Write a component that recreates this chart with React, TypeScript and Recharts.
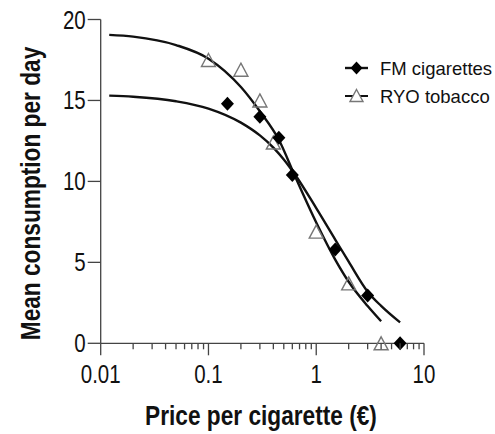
import React from "react";
import { ComposedChart, Line, Scatter, XAxis, YAxis, Label } from "recharts";

// observed means
const fmPrice = [0.15, 0.3, 0.45, 0.6, 1.5, 3, 6];
const fmConsumption = [14.8, 14.0, 12.7, 10.4, 5.8, 2.95, 0];
const ryoPrice = [0.1, 0.2, 0.3, 0.4, 1, 2, 4];
const ryoConsumption = [17.5, 16.9, 15.0, 12.4, 6.9, 3.7, 0];

// fitted demand curves
const fmFitPrice = [0.012, 0.02, 0.05, 0.1, 0.2, 0.3, 0.4, 0.5, 0.637, 1, 1.5, 2, 3, 4, 6];
const fmFitConsumption = [15.3, 15.23, 14.95, 14.5, 13.63, 12.84, 12.09, 11.36, 10.41, 8.35, 6.41, 5.04, 3.19, 2.31, 1.29];
const ryoFitPrice = [0.012, 0.02, 0.05, 0.1, 0.2, 0.3, 0.45, 0.637, 1, 1.5, 2, 3, 4];
const ryoFitConsumption = [19.05, 18.94, 18.42, 17.58, 15.83, 14.33, 12.57, 10.3, 7.46, 5.17, 3.8, 2.3, 1.36];

const majorTicks = [0.01, 0.1, 1, 10];
const priceTicks = [
  0.01, 0.02, 0.03, 0.04, 0.05, 0.06, 0.07, 0.08, 0.09,
  0.1, 0.2, 0.3, 0.4, 0.5, 0.6, 0.7, 0.8, 0.9,
  1, 2, 3, 4, 5, 6, 7, 8, 9, 10,
];
const consumptionTicks = [0, 5, 10, 15, 20];

const toPoints = (xs: number[], ys: number[]) => xs.map((x, i) => ({ x, y: ys[i] }));

const fmPoints = toPoints(fmPrice, fmConsumption);
const ryoPoints = toPoints(ryoPrice, ryoConsumption);
const fmFit = toPoints(fmFitPrice, fmFitConsumption);
const ryoFit = toPoints(ryoFitPrice, ryoFitConsumption);

const axisColor = "#444";
const font = "'Liberation Sans', Arial, sans-serif";

// condensed look: squeeze glyphs horizontally
const NarrowText = ({ x, y, anchor, size, bold, squeeze = 0.82, rotate = 0, children }: any) => (
  <g transform={`translate(${x},${y}) rotate(${rotate}) scale(${squeeze},1)`}>
    <text
      x={0}
      y={0}
      textAnchor={anchor}
      fontSize={size}
      fontWeight={bold ? "bold" : "normal"}
      fontFamily={font}
      fill="#111"
    >
      {children}
    </text>
  </g>
);

const PriceTick = (props: any) => {
  const { x, y, payload } = props;
  const major = majorTicks.includes(payload.value);
  return (
    <g>
      <line x1={x} x2={x} y1={y} y2={y + (major ? 12 : 6)} stroke={axisColor} strokeWidth={1.3} />
      {major && (
        <NarrowText x={x} y={y + 40} anchor="middle" size={25}>
          {payload.value}
        </NarrowText>
      )}
    </g>
  );
};

const ConsumptionTick = (props: any) => {
  const { x, y, payload } = props;
  return (
    <g>
      <line x1={x - 13} x2={x} y1={y} y2={y} stroke={axisColor} strokeWidth={1.3} />
      <NarrowText x={x - 15} y={y + 9} anchor="end" size={25}>
        {payload.value}
      </NarrowText>
    </g>
  );
};

const Diamond = (p: any) => (
  <polygon
    points={`${p.cx},${p.cy - 7} ${p.cx + 6.5},${p.cy} ${p.cx},${p.cy + 7} ${p.cx - 6.5},${p.cy}`}
    fill="#000"
  />
);

const Triangle = (p: any) => (
  <polygon
    points={`${p.cx},${p.cy - 6.5} ${p.cx + 7},${p.cy + 6.5} ${p.cx - 7},${p.cy + 6.5}`}
    fill="none"
    stroke="#777"
    strokeWidth={1.4}
  />
);

export default function App() {
  return (
    <div style={{ position: "absolute", left: 0, top: 0, width: 495, height: 434, background: "#fff" }}>
      <ComposedChart width={495} height={434} margin={{ top: 19.5, right: 71, bottom: 30.7, left: 40.7 }}>
        <XAxis
          dataKey="x"
          type="number"
          scale="log"
          domain={[0.01, 10]}
          allowDataOverflow
          ticks={priceTicks}
          interval={0}
          tickSize={0}
          tickMargin={0}
          tickLine={false}
          tick={<PriceTick />}
          axisLine={{ stroke: axisColor, strokeWidth: 1.3 }}
          height={60}
        >
          <Label
            content={() => (
              <NarrowText x={261} y={425} anchor="middle" size={27} bold squeeze={0.84}>
                Price per cigarette (€)
              </NarrowText>
            )}
          />
        </XAxis>
        <YAxis
          dataKey="y"
          type="number"
          domain={[0, 20]}
          ticks={consumptionTicks}
          interval={0}
          tickSize={0}
          tickMargin={0}
          tickLine={false}
          tick={<ConsumptionTick />}
          axisLine={{ stroke: axisColor, strokeWidth: 1.3 }}
          width={60}
        >
          <Label
            content={() => (
              <NarrowText x={39.5} y={193.5} anchor="middle" size={27} bold squeeze={0.84} rotate={-90}>
                Mean consumption per day
              </NarrowText>
            )}
          />
        </YAxis>
        <Line data={ryoFit} dataKey="y" type="monotone" stroke="#111" strokeWidth={2.4} dot={false} isAnimationActive={false} />
        <Line data={fmFit} dataKey="y" type="monotone" stroke="#111" strokeWidth={2.4} dot={false} isAnimationActive={false} />
        <Scatter data={ryoPoints} dataKey="y" shape={Triangle} isAnimationActive={false} />
        <Scatter data={fmPoints} dataKey="y" shape={Diamond} isAnimationActive={false} />
      </ComposedChart>
      <svg style={{ position: "absolute", left: 335, top: 50 }} width={160} height={60}>
        <line x1={10} x2={33} y1={18} y2={18} stroke="#111" strokeWidth={2.4} />
        <polygon points="21.5,11.5 27.5,18 21.5,24.5 15.5,18" fill="#000" />
        <text x={45} y={24.5} fontSize={18.5} fontFamily={font} fill="#111">FM cigarettes</text>
        <line x1={10} x2={33} y1={46} y2={46} stroke="#111" strokeWidth={2} />
        <polygon points="21.5,39.5 28,51.5 15,51.5" fill="#fff" stroke="#777" strokeWidth={1.4} />
        <text x={45} y={52.5} fontSize={18.5} fontFamily={font} fill="#111">RYO tobacco</text>
      </svg>
    </div>
  );
}
